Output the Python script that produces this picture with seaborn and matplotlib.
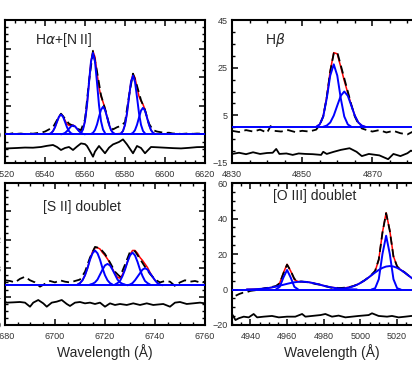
import numpy as np
import pandas as pd
import matplotlib
matplotlib.use("Agg")
import matplotlib.pyplot as plt
from matplotlib.ticker import MultipleLocator
import seaborn as sns

# ---------------- H-alpha + [N II] ----------------
ha_cont = 0.0
ha_step = 1
# component: (first wavelength, flux above continuum)
ha_comps = {
    "c1": (6542, [0.2, 0.8, 2.3, 5.0, 8.8, 12.4, 13.9, 12.4, 8.8, 5.0, 2.3, 0.8, 0.2]),
    "c2": (6548, [0.1, 0.4, 1.0, 2.3, 4.0, 5.6, 6.3, 5.6, 4.0, 2.3, 1.0, 0.4, 0.1]),
    "c3": (6558, [1.0, 3.4, 9.3, 20.5, 36.2, 50.9, 57.0, 50.9, 36.2, 20.5, 9.3, 3.4, 1.0]),
    "c4": (6563, [0.3, 1.1, 3.1, 6.9, 12.3, 17.2, 19.3, 17.2, 12.3, 6.9, 3.1, 1.1, 0.3]),
    "c5": (6578, [0.7, 2.4, 6.7, 14.8, 26.1, 36.7, 41.1, 36.7, 26.1, 14.8, 6.7, 2.4, 0.7]),
    "c6": (6583, [0.3, 1.1, 3.0, 6.7, 11.8, 16.6, 18.6, 16.6, 11.8, 6.7, 3.0, 1.1, 0.3]),
}
ha_data_wl = [6520, 6522, 6524, 6526, 6528, 6530, 6532, 6534, 6536, 6538, 6540, 6542,
              6544, 6546, 6548, 6550, 6552, 6554, 6556, 6558, 6560, 6562, 6564, 6566,
              6568, 6570, 6572, 6574, 6576, 6578, 6580, 6582, 6584, 6586, 6588, 6590,
              6592, 6594, 6596, 6598, 6600, 6602, 6604, 6606, 6608, 6610, 6612, 6614,
              6616, 6618, 6620]
ha_data = [0.5, 0.3, 0.8, 0.4, 0.6, 0.2, 0.7, 0.5, 0.9, 1.2, 2.0, 3.5,
           5.0, 10.0, 14.5, 11.0, 7.5, 6.0, 4.0, 3.0, 10.5, 37.0, 58.5, 44.0,
           27.5, 18.0, 7.5, 3.5, 5.0, 6.0, 8.5, 27.0, 42.5, 34.0, 24.0, 17.0,
           7.5, 3.0, 2.0, 1.5, 1.0, 1.2, 0.6, 0.8, 0.3, 0.5, 0.7, 0.4,
           0.6, 0.5, 0.5]
ha_res_wl = [6520, 6521, 6526, 6530, 6534, 6538, 6541, 6544, 6546, 6548, 6550, 6552,
             6554, 6556, 6558, 6560, 6561, 6563, 6564, 6565, 6567, 6570, 6572, 6574,
             6577, 6579, 6581, 6584, 6586, 6588, 6590, 6593, 6596, 6600, 6604, 6608,
             6612, 6616, 6620]
ha_res = [-9.8, -9.8, -9.5, -9.2, -9.3, -8.8, -8.0, -7.4, -8.8, -10.9, -9.5, -8.8,
          -10.9, -8.5, -6.3, -6.8, -8.1, -13.0, -15.6, -12.0, -8.1, -13.2, -9.3, -7.0,
          -5.3, -3.5, -7.0, -13.2, -8.1, -9.5, -13.2, -8.8, -9.0, -9.3, -9.6, -9.8,
          -9.4, -8.9, -8.8]

# ---------------- H-beta ----------------
hb_cont = 0.0
hb_step = 1
hb_comps = {
    "b1": (4854, [0.2, 1.2, 4.5, 12.1, 21.7, 26.4, 21.7, 12.1, 4.5, 1.2, 0.2]),
    "b2": (4856, [0.2, 0.7, 2.0, 4.9, 9.1, 13.2, 15.0, 13.2, 9.1, 4.9, 2.0, 0.7, 0.2]),
}
hb_data_wl = [4830, 4832, 4834, 4836, 4838, 4840, 4841, 4842, 4844, 4846, 4848, 4850,
              4852, 4854, 4855, 4856, 4857, 4858, 4859, 4860, 4861, 4862, 4863, 4864,
              4865, 4866, 4867, 4868, 4870, 4872, 4874, 4876, 4878, 4880, 4882, 4884,
              4886, 4887]
hb_data = [-1.5, -2.0, -1.2, -1.8, -1.0, -2.3, 0.5, -1.5, -1.8, -1.2, -2.0, -1.5,
           -1.8, -1.0, 1.0, 4.5, 12.5, 23.5, 31.0, 31.5, 26.0, 20.5, 15.0, 9.5,
           4.5, 1.5, -0.5, -1.0, -1.8, -1.2, -2.2, -1.5, -2.5, -3.0, -1.5, -2.8,
           -1.2, -1.5]
hb_res_wl = [4830, 4832, 4834, 4836, 4838, 4840, 4841.6, 4842.6, 4843.5, 4845.5, 4847.3,
             4849, 4851, 4853, 4855.4, 4856, 4857, 4859, 4861, 4863.5, 4865.5, 4867,
             4869, 4872, 4874.5, 4876, 4878, 4880, 4881, 4883, 4885, 4887]
hb_res = [-11.2, -10.7, -11.3, -10.5, -11.2, -10.8, -10.7, -9.1, -11.2, -11.0, -11.6,
          -11.0, -11.2, -11.3, -11.6, -10.3, -11.2, -10.3, -9.5, -8.8, -10.3, -12.1,
          -11.2, -11.8, -13.4, -11.2, -12.1, -10.9, -9.8, -11.0, -10.5, -11.0]

# ---------------- [S II] doublet ----------------
s2_cont = 5.6
s2_step = 1
s2_comps = {
    "s1": (6709, [0.1, 0.3, 0.7, 1.4, 2.4, 3.6, 4.5, 4.9, 4.5, 3.6, 2.4, 1.4, 0.7, 0.3, 0.1]),
    "s2": (6714, [0.1, 0.2, 0.4, 0.8, 1.5, 2.2, 2.8, 3.0, 2.8, 2.2, 1.5, 0.8, 0.4, 0.2, 0.1]),
    "s3": (6724, [0.1, 0.3, 0.6, 1.3, 2.2, 3.3, 4.2, 4.6, 4.2, 3.3, 2.2, 1.3, 0.6, 0.3, 0.1]),
    "s4": (6729, [0.0, 0.1, 0.3, 0.7, 1.2, 1.7, 2.2, 2.4, 2.2, 1.7, 1.2, 0.7, 0.3, 0.1, 0.0]),
}
s2_data_wl = [6680, 6682, 6684, 6686, 6688, 6690, 6692, 6694, 6696, 6698, 6700, 6702,
              6704, 6706, 6708, 6710, 6712, 6714, 6716, 6718, 6720, 6722, 6724, 6726,
              6728, 6730, 6732, 6734, 6736, 6738, 6740, 6742, 6744, 6746, 6748, 6750,
              6752, 6754, 6756, 6758, 6760]
s2_data = [6.3, 6.2, 6.0, 6.5, 6.8, 6.3, 6.0, 5.4, 5.8, 6.2, 6.0, 6.3,
           6.1, 6.0, 6.2, 6.4, 7.5, 9.5, 11.0, 10.8, 10.0, 8.8, 7.5, 6.8,
           8.5, 10.3, 10.4, 9.3, 8.2, 7.2, 6.4, 6.0, 6.2, 6.1, 5.5, 6.0,
           6.3, 6.1, 6.2, 6.0, 6.1]
s2_res_wl = [6680, 6680.7, 6683.3, 6686, 6688, 6690, 6691.3, 6693.3, 6695.3, 6696.7,
             6698.7, 6700.7, 6702.7, 6704.7, 6706, 6708, 6710, 6712, 6714, 6716, 6718,
             6720, 6722, 6724, 6726, 6728.7, 6731.3, 6734, 6736.7, 6739.3, 6743.3, 6746,
             6748, 6750, 6752.7, 6755.3, 6758, 6760]
s2_res = [3.29, 3.15, 3.19, 3.24, 3.15, 2.58, 3.15, 3.52, 3.05, 2.58,
          3.15, 3.29, 3.52, 2.96, 2.68, 3.15, 3.24, 3.05, 3.15, 2.96, 3.15,
          2.58, 3.05, 2.82, 2.96, 2.82, 3.05, 2.82, 3.05, 2.82, 2.96, 2.58,
          3.15, 3.24, 2.96, 3.05, 3.15, 3.05]

# ---------------- [O III] doublet ----------------
o3_cont = 0.0
o3_step = 2
o3_comps = {
    "o_broad1": (4938, [0.05, 0.09, 0.15, 0.25, 0.39, 0.59, 0.87, 1.22, 1.65, 2.14, 2.67,
                        3.19, 3.67, 4.06, 4.31, 4.40, 4.31, 4.06, 3.67, 3.19, 2.67, 2.14,
                        1.65, 1.22, 0.87, 0.59, 0.39, 0.25, 0.15, 0.09, 0.05]),
    "o_narrow1": (4954, [0.1, 1.5, 6.7, 11.0, 6.7, 1.5, 0.1]),
    "o_broad2": (4986, [0.15, 0.26, 0.45, 0.74, 1.17, 1.78, 2.61, 3.67, 4.95, 6.43, 8.01,
                        9.58, 11.02, 12.18, 12.94, 13.2, 12.94, 12.18, 11.02, 9.58, 8.01,
                        6.43, 4.95, 3.67, 2.61, 1.78, 1.17, 0.74]),
    "o_narrow2": (5006, [0.0, 0.7, 5.8, 20.0, 30.3, 20.0, 5.8, 0.7, 0.0]),
}
o3_data_wl = [4932, 4934, 4936, 4938, 4940, 4942, 4944, 4946, 4948, 4950, 4952, 4954,
              4956, 4958, 4960, 4962, 4964, 4966, 4968, 4970, 4972, 4974, 4976, 4978,
              4980, 4982, 4984, 4986, 4988, 4990, 4992, 4994, 4996, 4998, 5000, 5002,
              5004, 5006, 5008, 5010, 5012, 5014, 5016, 5018, 5020, 5022, 5024, 5026,
              5028, 5030, 5032, 5034, 5036, 5038, 5040]
o3_data = [-3.5, -2.5, -1.8, -1.5, -0.8, -0.5, -0.3, 0.3, 0.8, 1.0, 1.5, 2.0,
           3.5, 9.0, 14.0, 10.5, 6.0, 4.5, 4.5, 4.2, 4.0, 3.5, 3.0, 2.8,
           2.0, 1.6, 1.0, 1.2, 0.8, 0.9, 1.1, 1.4, 1.9, 2.7, 3.8, 5.0,
           6.5, 8.3, 10.5, 17.0, 32.0, 43.0, 33.0, 18.5, 13.0, 11.0, 9.8, 8.0,
           6.5, 5.0, 3.8, 2.7, 1.8, 1.2, 0.8]
o3_res_wl = [4930, 4931.9, 4933.7, 4936.4, 4939.1, 4941.8, 4943.7, 4947.3, 4951.8,
             4955.5, 4960, 4964.5, 4968.2, 4970, 4973.6, 4978.2, 4980.9, 4984.5,
             4988.1, 4991.8, 4995.4, 4999, 5004.5, 5006.3, 5009.9, 5014.5, 5017.2,
             5020.8, 5024.5, 5027.8, 5034, 5040]
o3_res = [-13.8, -17.2, -16.2, -15.3, -15.7, -13.8, -15.7, -15.3, -14.9,
          -15.7, -15.3, -15.3, -13.8, -15.3, -14.9, -14.4, -13.8, -15.3,
          -14.7, -15.7, -15.3, -14.9, -14.4, -13.4, -14.9, -15.3, -14.9,
          -15.7, -15.3, -14.9, -15.2, -15.0]

sns.set_theme(style="ticks")
plt.rcParams["font.family"] = ["Liberation Sans", "DejaVu Sans"]
plt.rcParams.update({
    "xtick.direction": "in", "ytick.direction": "in",
    "xtick.top": True, "ytick.right": True,
    "xtick.major.size": 4, "ytick.major.size": 4,
    "xtick.minor.size": 2, "ytick.minor.size": 2,
    "xtick.major.width": 1.1, "ytick.major.width": 1.1,
    "xtick.minor.width": 1.0, "ytick.minor.width": 1.0,
    "xtick.labelsize": 6.5, "ytick.labelsize": 6.5,
    "xtick.major.pad": 5, "ytick.major.pad": 3,
    "xtick.color": "black", "ytick.color": "black",
    "xtick.labelcolor": "#333333", "ytick.labelcolor": "#333333",
})


def draw_panel(ax, comps, cont, step, data_wl, data_fl, res_wl, res_fl):
    frames = []
    for name, (start, vals) in comps.items():
        frames.append(pd.DataFrame({"comp": name,
                                    "wl": start + step * np.arange(len(vals)),
                                    "flux": vals}))
    comp_df = pd.concat(frames, ignore_index=True)
    comp_df["flux_c"] = comp_df["flux"] + cont
    total = comp_df.groupby("wl", as_index=False)["flux"].sum()
    total["flux_c"] = total["flux"] + cont

    sns.lineplot(data=total, x="wl", y="flux_c", ax=ax, color="red", lw=1.1,
                 estimator=None, sort=True, zorder=2)
    sns.lineplot(x=data_wl, y=data_fl, ax=ax, color="black", lw=1.3,
                 linestyle=(0, (4.5, 2.5)), estimator=None, zorder=3)
    sns.lineplot(data=comp_df, x="wl", y="flux_c", units="comp", ax=ax,
                 color="blue", lw=1.4, estimator=None, zorder=4)
    ax.axhline(cont, color="blue", lw=1.4, zorder=4)
    sns.lineplot(x=res_wl, y=res_fl, ax=ax, color="black", lw=1.3,
                 estimator=None, zorder=3)
    for s in ax.spines.values():
        s.set_linewidth(1.5)
        s.set_color("black")
    ax.set_xlabel("")
    ax.set_ylabel("")


fig = plt.figure(figsize=(4.12, 3.83), dpi=100)
W, H = 412.0, 383.0
ax_ha = fig.add_axes([5 / W, 1 - 163 / H, 200 / W, 143 / H])
ax_hb = fig.add_axes([232 / W, 1 - 163 / H, 200 / W, 143 / H])
ax_s2 = fig.add_axes([5 / W, 1 - 325 / H, 200 / W, 142 / H])
ax_o3 = fig.add_axes([232 / W, 1 - 325 / H, 200 / W, 142 / H])

draw_panel(ax_ha, ha_comps, ha_cont, ha_step, ha_data_wl, ha_data, ha_res_wl, ha_res)
ax_ha.set_xlim(6520, 6620)
ax_ha.set_ylim(-20, 80)
ax_ha.set_xticks([6520, 6540, 6560, 6580, 6600, 6620])
ax_ha.set_yticks([-20, 0, 20, 40, 60, 80])
ax_ha.xaxis.set_minor_locator(MultipleLocator(5))
ax_ha.yaxis.set_minor_locator(MultipleLocator(5))
ax_ha.text(0.15, 0.86, r"H$\alpha$+[N II]", transform=ax_ha.transAxes,
           fontsize=10, va="center", ha="left")

draw_panel(ax_hb, hb_comps, hb_cont, hb_step, hb_data_wl, hb_data, hb_res_wl, hb_res)
ax_hb.set_xlim(4830, 4887)
ax_hb.set_ylim(-15, 45)
ax_hb.set_xticks([4830, 4850, 4870])
ax_hb.set_yticks([-15, 5, 25, 45])
ax_hb.xaxis.set_minor_locator(MultipleLocator(5))
ax_hb.yaxis.set_minor_locator(MultipleLocator(5))
ax_hb.text(0.165, 0.86, r"H$\beta$", transform=ax_hb.transAxes,
           fontsize=10, va="center", ha="left")

draw_panel(ax_s2, s2_comps, s2_cont, s2_step, s2_data_wl, s2_data, s2_res_wl, s2_res)
ax_s2.set_xlim(6680, 6760)
ax_s2.set_ylim(0, 20)
ax_s2.set_xticks([6680, 6700, 6720, 6740, 6760])
ax_s2.set_yticks([0, 4, 8, 12, 16, 20])
ax_s2.xaxis.set_minor_locator(MultipleLocator(5))
ax_s2.yaxis.set_minor_locator(MultipleLocator(1))
ax_s2.text(0.19, 0.83, "[S II] doublet", transform=ax_s2.transAxes,
           fontsize=10, va="center", ha="left")
ax_s2.set_xlabel("Wavelength (Å)", fontsize=10, labelpad=2)

draw_panel(ax_o3, o3_comps, o3_cont, o3_step, o3_data_wl, o3_data, o3_res_wl, o3_res)
ax_o3.set_xlim(4930, 5039)
ax_o3.set_ylim(-20, 60)
ax_o3.set_xticks([4940, 4960, 4980, 5000, 5020])
ax_o3.set_yticks([-20, 0, 20, 40, 60])
ax_o3.xaxis.set_minor_locator(MultipleLocator(5))
ax_o3.yaxis.set_minor_locator(MultipleLocator(5))
ax_o3.text(0.205, 0.91, "[O III] doublet", transform=ax_o3.transAxes,
           fontsize=10, va="center", ha="left")
ax_o3.set_xlabel("Wavelength (Å)", fontsize=10, labelpad=2)

fig.savefig("out.png", dpi=100)
